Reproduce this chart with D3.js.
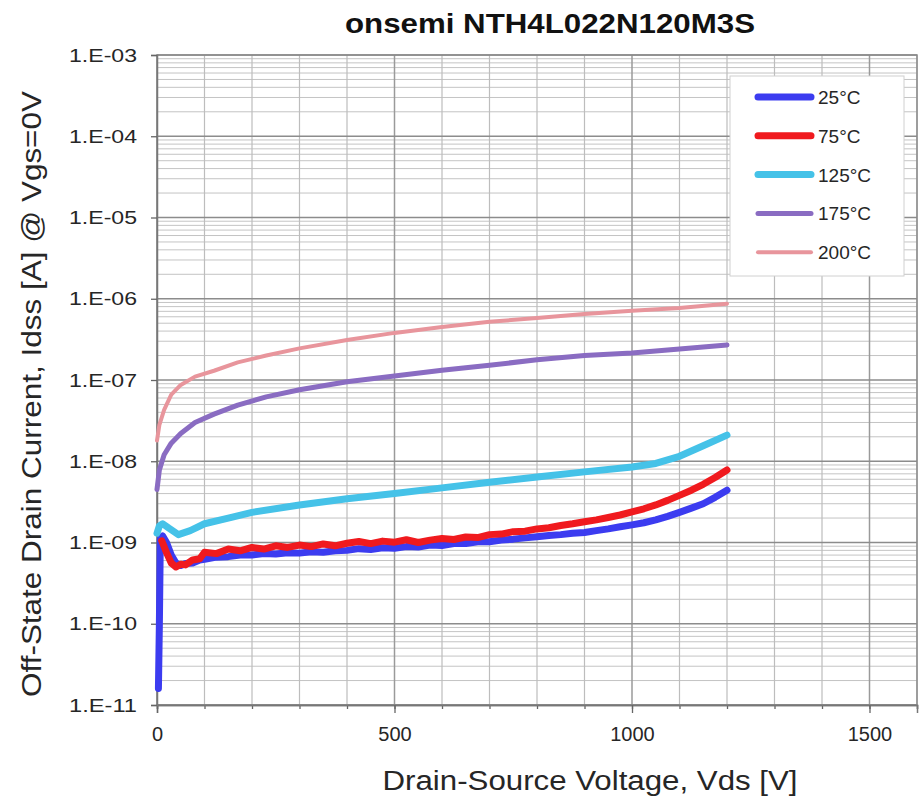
<!DOCTYPE html>
<html>
<head>
<meta charset="utf-8">
<script src="https://cdn.jsdelivr.net/npm/d3@7"></script>
<style>
  html, body { margin: 0; padding: 0; background: #fff; }
  svg { display: block; font-family: "Liberation Sans", Arial, sans-serif; }
</style>
</head>
<body>
<svg id="chart" width="924" height="804"></svg>
<script>
// Off-state leakage current vs drain-source voltage at five junction temperatures
const chartTitle = "onsemi NTH4L022N120M3S";
const xTitle = "Drain-Source Voltage, Vds [V]";
const yTitle = "Off-State Drain Current, Idss [A] @ Vgs=0V";

const seriesNames = ["25°C", "75°C", "125°C", "175°C", "200°C"];

const xTickValues = [0, 500, 1000, 1500];
const yTickExponents = [-3, -4, -5, -6, -7, -8, -9, -10, -11];

// 25°C
const vds25 = [3, 5, 7, 12, 20, 30, 40, 50, 60, 75, 90, 100, 125, 150, 175, 200, 225, 250, 275, 300, 325, 350, 375,
  400, 425, 450, 475, 500, 525, 550, 575, 600, 625, 650, 675, 700, 725, 750, 775, 800, 825, 850, 875, 900, 925, 950,
  975, 1000, 1025, 1050, 1075, 1100, 1125, 1150, 1175, 1200];
const idss25 = [1.6e-11, 1.0e-10, 1.1e-9, 1.2e-9, 1.0e-9, 7.0e-10, 5.6e-10, 5.2e-10, 5.5e-10, 5.6e-10, 6.1e-10, 6.2e-10,
  6.6e-10, 6.7e-10, 7.0e-10, 7.0e-10, 7.3e-10, 7.2e-10, 7.5e-10, 7.4e-10, 7.7e-10, 7.6e-10, 7.9e-10,
  8.0e-10, 8.4e-10, 8.2e-10, 8.6e-10, 8.5e-10, 8.9e-10, 8.8e-10, 9.3e-10, 9.2e-10, 9.7e-10, 9.7e-10, 1.02e-9, 1.02e-9,
  1.07e-9, 1.1e-9, 1.14e-9, 1.18e-9, 1.22e-9, 1.25e-9, 1.3e-9, 1.33e-9, 1.4e-9, 1.47e-9, 1.56e-9, 1.65e-9, 1.75e-9,
  1.9e-9, 2.1e-9, 2.35e-9, 2.65e-9, 3.0e-9, 3.6e-9, 4.4e-9];

// 75°C
const vds75 = [10, 20, 30, 40, 50, 60, 75, 90, 100, 125, 150, 175, 200, 225, 250, 275, 300, 325, 350, 375,
  400, 425, 450, 475, 500, 525, 550, 575, 600, 625, 650, 675, 700, 725, 750, 775, 800, 825, 850, 875, 900, 925, 950,
  975, 1000, 1025, 1050, 1075, 1100, 1125, 1150, 1175, 1200];
const idss75 = [1.05e-9, 7.5e-10, 5.6e-10, 5.0e-10, 5.4e-10, 5.3e-10, 6.1e-10, 6.3e-10, 7.6e-10, 7.3e-10, 8.3e-10,
  7.9e-10, 8.7e-10, 8.3e-10, 9.1e-10, 8.7e-10, 9.3e-10, 8.9e-10, 9.6e-10, 9.1e-10,
  9.8e-10, 1.03e-9, 9.7e-10, 1.04e-9, 1.01e-9, 1.08e-9, 1.0e-9, 1.07e-9, 1.12e-9, 1.09e-9, 1.17e-9, 1.15e-9, 1.25e-9,
  1.27e-9, 1.36e-9, 1.38e-9, 1.47e-9, 1.52e-9, 1.62e-9, 1.7e-9, 1.8e-9, 1.9e-9, 2.03e-9, 2.18e-9, 2.38e-9, 2.6e-9,
  2.9e-9, 3.3e-9, 3.8e-9, 4.4e-9, 5.2e-9, 6.3e-9, 7.8e-9];

// 125°C
const vds125 = [0, 5, 12, 25, 45, 70, 100, 150, 200, 300, 400, 500, 600, 700, 800, 900, 1000, 1050, 1100, 1150, 1200];
const idss125 = [1.3e-9, 1.6e-9, 1.7e-9, 1.5e-9, 1.25e-9, 1.4e-9, 1.7e-9, 2.0e-9, 2.35e-9, 2.9e-9, 3.45e-9, 4.0e-9,
  4.7e-9, 5.5e-9, 6.4e-9, 7.4e-9, 8.5e-9, 9.4e-9, 1.15e-8, 1.55e-8, 2.1e-8];

// 175°C
const vds175 = [0, 5, 15, 30, 50, 80, 120, 170, 230, 300, 400, 500, 600, 700, 800, 900, 1000, 1100, 1200];
const idss175 = [4.5e-9, 7.8e-9, 1.2e-8, 1.67e-8, 2.2e-8, 3.0e-8, 3.8e-8, 4.9e-8, 6.2e-8, 7.6e-8, 9.5e-8, 1.12e-7,
  1.32e-7, 1.52e-7, 1.77e-7, 2.0e-7, 2.15e-7, 2.4e-7, 2.7e-7];

// 200°C
const vds200 = [0, 5, 15, 30, 50, 80, 120, 170, 230, 300, 400, 500, 600, 700, 800, 900, 1000, 1100, 1200];
const idss200 = [1.8e-8, 2.8e-8, 4.3e-8, 6.6e-8, 8.7e-8, 1.1e-7, 1.3e-7, 1.65e-7, 2.0e-7, 2.45e-7, 3.1e-7, 3.8e-7,
  4.5e-7, 5.2e-7, 5.8e-7, 6.5e-7, 7.1e-7, 7.7e-7, 8.7e-7];

const seriesVds = [vds25, vds75, vds125, vds175, vds200];
const seriesIdss = [idss25, idss75, idss125, idss175, idss200];

// styling
const lineColors = ["#3c3cf0", "#f01a1e", "#45c2e8", "#8a6cc2", "#e8959c"];
const lineWidths = [7, 7, 7, 5, 4];

const svg = d3.select("#chart");
const plot = { left: 157, right: 917, top: 55, bottom: 705 };

const x = d3.scaleLinear().domain([0, 1600]).range([plot.left, plot.right]);
const y = d3.scaleLog().domain([1e-11, 1e-3]).range([plot.bottom, plot.top]);

// plot background
svg.append("rect")
  .attr("x", plot.left).attr("y", plot.top)
  .attr("width", plot.right - plot.left).attr("height", plot.bottom - plot.top)
  .attr("fill", "#fff");

const grid = svg.append("g");

// horizontal log grid: minor lines (2..9) and decade lines
const minorY = [];
for (let e = -11; e < -3; e++) for (let m = 2; m <= 9; m++) minorY.push(m * Math.pow(10, e));
grid.selectAll("line.hy").data(minorY).join("line")
  .attr("x1", plot.left).attr("x2", plot.right)
  .attr("y1", d => y(d)).attr("y2", d => y(d))
  .attr("stroke", "#c4c4c4").attr("stroke-width", 1);

// vertical grid every 100 V
const vGrid = d3.range(0, 1601, 100);
grid.selectAll("line.vx").data(vGrid).join("line")
  .attr("x1", d => x(d)).attr("x2", d => x(d))
  .attr("y1", plot.top).attr("y2", plot.bottom)
  .attr("stroke", d => d % 500 === 0 ? "#9a9a9a" : "#bdbdbd")
  .attr("stroke-width", d => d % 500 === 0 ? 1.5 : 1.2);

grid.selectAll("line.dy").data(yTickExponents).join("line")
  .attr("x1", plot.left).attr("x2", plot.right)
  .attr("y1", d => y(Math.pow(10, d))).attr("y2", d => y(Math.pow(10, d)))
  .attr("stroke", "#8c8c8c").attr("stroke-width", 1.6);

// plot frame
svg.append("rect")
  .attr("x", plot.left).attr("y", plot.top)
  .attr("width", plot.right - plot.left).attr("height", plot.bottom - plot.top)
  .attr("fill", "none").attr("stroke", "#8a8a8a").attr("stroke-width", 1.5);

// x axis: minor ticks then labelled major ticks
const xMinor = svg.append("g").attr("transform", `translate(0,${plot.bottom})`)
  .call(d3.axisBottom(x).tickValues(d3.range(0, 1601, 100)).tickSize(4).tickFormat(""));
const xAxis = svg.append("g").attr("transform", `translate(0,${plot.bottom})`)
  .call(d3.axisBottom(x).tickValues(xTickValues).tickSize(8).tickPadding(14).tickFormat(d3.format("d")));
[xMinor, xAxis].forEach(g => {
  g.select(".domain").attr("stroke", "#777").attr("stroke-width", 1.5);
  g.selectAll(".tick line").attr("stroke", "#666").attr("stroke-width", 1.3);
});
xAxis.selectAll(".tick text")
  .attr("font-size", 20).attr("fill", "#262626")
  .attr("font-family", "'Liberation Sans', Arial, sans-serif");

// y axis with Excel-style exponent labels
const yAxis = svg.append("g").attr("transform", `translate(${plot.left},0)`)
  .call(d3.axisLeft(y)
    .tickValues(yTickExponents.map(e => Math.pow(10, e)))
    .tickSize(6).tickPadding(14)
    .tickFormat(d => "1.E-" + String(Math.round(-Math.log10(d))).padStart(2, "0")));
yAxis.select(".domain").attr("stroke", "#777").attr("stroke-width", 1.5);
yAxis.selectAll(".tick line").attr("stroke", "#666").attr("stroke-width", 1.3);
yAxis.selectAll(".tick text")
  .attr("font-size", 19).attr("fill", "#262626")
  .attr("font-family", "'Liberation Sans', Arial, sans-serif")
  .attr("textLength", 68).attr("lengthAdjust", "spacingAndGlyphs");

// series lines
const line = d3.line()
  .x(d => x(d[0]))
  .y(d => y(d[1]));

const lines = svg.append("g").attr("fill", "none")
  .attr("stroke-linejoin", "round").attr("stroke-linecap", "round");
seriesNames.forEach((name, i) => {
  const pts = seriesVds[i].map((v, k) => [v, seriesIdss[i][k]]);
  lines.append("path")
    .datum(pts)
    .attr("d", line)
    .attr("stroke", lineColors[i])
    .attr("stroke-width", lineWidths[i]);
});

// legend
const legend = svg.append("g");
legend.append("rect")
  .attr("x", 730).attr("y", 76).attr("width", 174).attr("height", 200)
  .attr("fill", "#fff").attr("stroke", "#d0d0d0").attr("stroke-width", 1);
seriesNames.forEach((name, i) => {
  const ly = 97 + i * 38.8;
  legend.append("line")
    .attr("x1", 758).attr("x2", 811).attr("y1", ly).attr("y2", ly)
    .attr("stroke", lineColors[i]).attr("stroke-width", lineWidths[i])
    .attr("stroke-linecap", "round");
  legend.append("text")
    .attr("x", 818).attr("y", ly + 7)
    .attr("font-size", 19).attr("fill", "#262626")
    .text(name);
});

// titles
svg.append("text")
  .attr("x", 550).attr("y", 33)
  .attr("text-anchor", "middle")
  .attr("font-size", 28).attr("font-weight", "bold").attr("fill", "#111")
  .attr("textLength", 410).attr("lengthAdjust", "spacingAndGlyphs")
  .text(chartTitle);

svg.append("text")
  .attr("x", 590).attr("y", 790)
  .attr("text-anchor", "middle")
  .attr("font-size", 27).attr("fill", "#262626")
  .attr("textLength", 415).attr("lengthAdjust", "spacingAndGlyphs")
  .text(xTitle);

svg.append("text")
  .attr("transform", "translate(41,394) rotate(-90)")
  .attr("text-anchor", "middle")
  .attr("font-size", 27).attr("fill", "#262626")
  .attr("textLength", 606).attr("lengthAdjust", "spacingAndGlyphs")
  .text(yTitle);
</script>
</body>
</html>
